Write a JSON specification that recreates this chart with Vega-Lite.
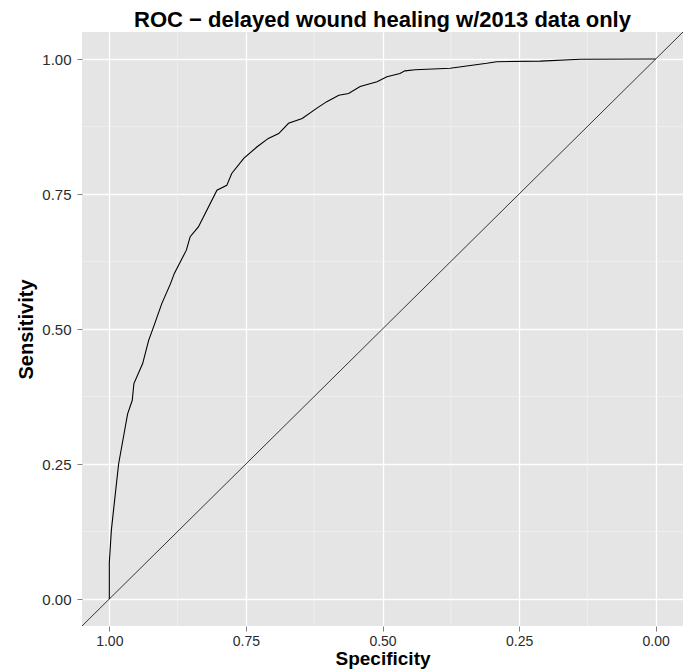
{
  "$schema": "https://vega.github.io/schema/vega-lite/v6.json",
  "width": 601,
  "height": 594,
  "autosize": {"type": "none"},
  "padding": {"left": 82, "top": 32, "right": 0, "bottom": 43},
  "background": "white",
  "title": {
    "text": "ROC − delayed wound healing w/2013 data only",
    "font": "Liberation Sans",
    "fontSize": 22,
    "fontWeight": "bold",
    "color": "black",
    "anchor": "middle",
    "baseline": "alphabetic",
    "offset": 5,
    "dy": 22
  },
  "config": {
    "view": {"fill": "#E5E5E5", "stroke": null},
    "axis": {
      "domain": false,
      "grid": true,
      "gridColor": "white",
      "gridWidth": 1.3,
      "tickColor": "#7F7F7F",
      "tickSize": 5,
      "tickWidth": 1,
      "labelFont": "Liberation Sans",
      "labelFontSize": 15,
      "labelColor": "#2b2b2b",
      "titleFont": "Liberation Sans",
      "titleFontSize": 20,
      "titleFontWeight": "bold",
      "titleColor": "black"
    },
    "axisX": {"labelFontSize": 14, "titleFontSize": 19}
  },
  "datasets": {
    "roc": [
      {"specificity": 1.0, "sensitivity": 0.0},
      {"specificity": 1.0, "sensitivity": 0.067},
      {"specificity": 0.9963, "sensitivity": 0.127},
      {"specificity": 0.989, "sensitivity": 0.195},
      {"specificity": 0.983, "sensitivity": 0.25},
      {"specificity": 0.972, "sensitivity": 0.312},
      {"specificity": 0.9665, "sensitivity": 0.343},
      {"specificity": 0.958, "sensitivity": 0.368},
      {"specificity": 0.955, "sensitivity": 0.399},
      {"specificity": 0.939, "sensitivity": 0.436},
      {"specificity": 0.928, "sensitivity": 0.479},
      {"specificity": 0.919, "sensitivity": 0.504},
      {"specificity": 0.904, "sensitivity": 0.547},
      {"specificity": 0.888, "sensitivity": 0.584},
      {"specificity": 0.881, "sensitivity": 0.603},
      {"specificity": 0.859, "sensitivity": 0.646},
      {"specificity": 0.852, "sensitivity": 0.671},
      {"specificity": 0.837, "sensitivity": 0.689},
      {"specificity": 0.803, "sensitivity": 0.757},
      {"specificity": 0.785, "sensitivity": 0.766},
      {"specificity": 0.776, "sensitivity": 0.788},
      {"specificity": 0.754, "sensitivity": 0.816},
      {"specificity": 0.73, "sensitivity": 0.837},
      {"specificity": 0.709, "sensitivity": 0.853},
      {"specificity": 0.69, "sensitivity": 0.862},
      {"specificity": 0.672, "sensitivity": 0.881},
      {"specificity": 0.647, "sensitivity": 0.89},
      {"specificity": 0.62, "sensitivity": 0.909},
      {"specificity": 0.602, "sensitivity": 0.921},
      {"specificity": 0.58, "sensitivity": 0.933},
      {"specificity": 0.562, "sensitivity": 0.936},
      {"specificity": 0.541, "sensitivity": 0.949},
      {"specificity": 0.51, "sensitivity": 0.958},
      {"specificity": 0.492, "sensitivity": 0.967},
      {"specificity": 0.468, "sensitivity": 0.973},
      {"specificity": 0.459, "sensitivity": 0.978},
      {"specificity": 0.44, "sensitivity": 0.98},
      {"specificity": 0.376, "sensitivity": 0.983},
      {"specificity": 0.346, "sensitivity": 0.987},
      {"specificity": 0.309, "sensitivity": 0.992},
      {"specificity": 0.291, "sensitivity": 0.995},
      {"specificity": 0.211, "sensitivity": 0.996},
      {"specificity": 0.138, "sensitivity": 0.9994},
      {"specificity": 0.0, "sensitivity": 1.0}
    ],
    "diag": [
      {"specificity": 1.05, "sensitivity": -0.05},
      {"specificity": -0.05, "sensitivity": 1.05}
    ],
    "minorx": [
      {"specificity": 0.875},
      {"specificity": 0.625},
      {"specificity": 0.375},
      {"specificity": 0.125}
    ],
    "minory": [
      {"sensitivity": 0.875},
      {"sensitivity": 0.625},
      {"sensitivity": 0.375},
      {"sensitivity": 0.125}
    ]
  },
  "layer": [
    {
      "data": {"name": "minorx"},
      "mark": {"type": "rule", "stroke": "#F2F2F2", "strokeWidth": 0.7},
      "encoding": {
        "x": {
          "field": "specificity", "type": "quantitative", "title": "Specificity",
          "scale": {"domain": [-0.05, 1.05], "reverse": true, "nice": false, "zero": false},
          "axis": {"values": [0, 0.25, 0.5, 0.75, 1], "format": ".2f", "labelPadding": 3, "titlePadding": 1}
        }
      }
    },
    {
      "data": {"name": "minory"},
      "mark": {"type": "rule", "stroke": "#F2F2F2", "strokeWidth": 0.7},
      "encoding": {
        "y": {
          "field": "sensitivity", "type": "quantitative", "title": "Sensitivity",
          "scale": {"domain": [-0.05, 1.05], "nice": false, "zero": false},
          "axis": {"values": [0, 0.25, 0.5, 0.75, 1], "format": ".2f", "labelPadding": 6, "titlePadding": 5}
        }
      }
    },
    {
      "data": {"name": "diag"},
      "mark": {"type": "line", "stroke": "#222222", "strokeWidth": 0.9, "clip": true},
      "encoding": {
        "x": {
          "field": "specificity", "type": "quantitative", "title": "Specificity",
          "scale": {"domain": [-0.05, 1.05], "reverse": true, "nice": false, "zero": false},
          "axis": {"values": [0, 0.25, 0.5, 0.75, 1], "format": ".2f", "labelPadding": 3, "titlePadding": 1}
        },
        "y": {
          "field": "sensitivity", "type": "quantitative", "title": "Sensitivity",
          "scale": {"domain": [-0.05, 1.05], "nice": false, "zero": false},
          "axis": {"values": [0, 0.25, 0.5, 0.75, 1], "format": ".2f", "labelPadding": 6, "titlePadding": 5}
        }
      }
    },
    {
      "data": {"name": "roc"},
      "mark": {"type": "line", "stroke": "black", "strokeWidth": 1.1},
      "encoding": {
        "x": {
          "field": "specificity", "type": "quantitative", "title": "Specificity",
          "scale": {"domain": [-0.05, 1.05], "reverse": true, "nice": false, "zero": false},
          "axis": {"values": [0, 0.25, 0.5, 0.75, 1], "format": ".2f", "labelPadding": 3, "titlePadding": 1}
        },
        "y": {
          "field": "sensitivity", "type": "quantitative", "title": "Sensitivity",
          "scale": {"domain": [-0.05, 1.05], "nice": false, "zero": false},
          "axis": {"values": [0, 0.25, 0.5, 0.75, 1], "format": ".2f", "labelPadding": 6, "titlePadding": 5}
        },
        "order": {"field": "sensitivity", "type": "quantitative"}
      }
    }
  ]
}
